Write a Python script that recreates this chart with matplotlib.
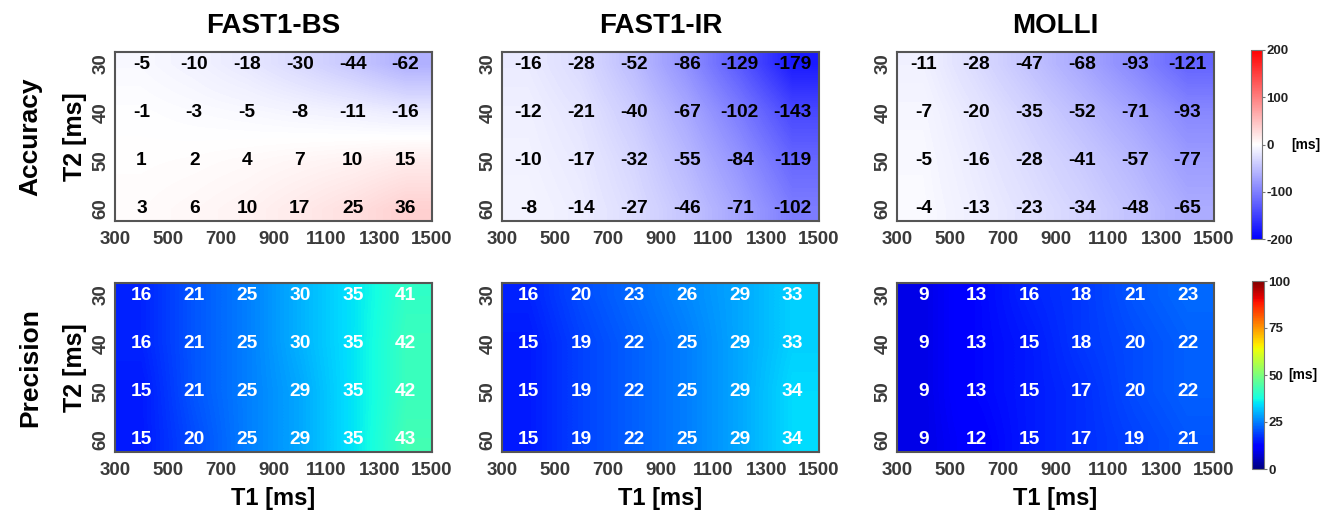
import numpy as np
import matplotlib
matplotlib.use("Agg")
import matplotlib.pyplot as plt

plt.rcParams['font.family'] = ['Liberation Sans', 'DejaVu Sans']
plt.rcParams['axes.unicode_minus'] = False

# datos
metodos = ['FAST1-BS', 'FAST1-IR', 'MOLLI']
t1_ticks = [300, 500, 700, 900, 1100, 1300, 1500]
t2_ticks = [30, 40, 50, 60]
t1_vals = [400, 600, 800, 1000, 1200, 1400]

acc_bs = [[-5, -10, -18, -30, -44, -62],
          [-1, -3, -5, -8, -11, -16],
          [1, 2, 4, 7, 10, 15],
          [3, 6, 10, 17, 25, 36]]
acc_ir = [[-16, -28, -52, -86, -129, -179],
          [-12, -21, -40, -67, -102, -143],
          [-10, -17, -32, -55, -84, -119],
          [-8, -14, -27, -46, -71, -102]]
acc_molli = [[-11, -28, -47, -68, -93, -121],
             [-7, -20, -35, -52, -71, -93],
             [-5, -16, -28, -41, -57, -77],
             [-4, -13, -23, -34, -48, -65]]

prec_bs = [[16, 21, 25, 30, 35, 41],
           [16, 21, 25, 30, 35, 42],
           [15, 21, 25, 29, 35, 42],
           [15, 20, 25, 29, 35, 43]]
prec_ir = [[16, 20, 23, 26, 29, 33],
           [15, 19, 22, 25, 29, 33],
           [15, 19, 22, 25, 29, 34],
           [15, 19, 22, 25, 29, 34]]
prec_molli = [[9, 13, 16, 18, 21, 23],
              [9, 13, 15, 18, 20, 22],
              [9, 13, 15, 17, 20, 22],
              [9, 12, 15, 17, 19, 21]]

filas = [
    ('Accuracy', [acc_bs, acc_ir, acc_molli], 'bwr', -200, 200, 'black'),
    ('Precision', [prec_bs, prec_ir, prec_molli], 'jet', 0, 100, 'white'),
]

W, H = 1333, 513
fig = plt.figure(figsize=(W / 100, H / 100), dpi=100)

def px(l, t, w, h):
    return [l / W, (H - t - h) / H, w / W, h / H]

lefts = [115, 502, 897]
tops = [52, 283]
gris = '#3a3a3a'

for r, (nombre, datos, cmap, vmin, vmax, tcol) in enumerate(filas):
    for c in range(3):
        ax = fig.add_axes(px(lefts[c], tops[r], 317, 169))
        z = np.array(datos[c])
        im = ax.imshow(z, cmap=cmap, vmin=vmin, vmax=vmax, aspect='auto',
                       interpolation='bilinear', extent=[300, 1500, 65, 25])
        ax.set_xlim(300, 1500)
        ax.set_ylim(62.5, 27.5)
        for i, t2 in enumerate(t2_ticks):
            for j, t1 in enumerate(t1_vals):
                ax.text(t1, t2, str(datos[c][i][j]), ha='center', va='center',
                        fontsize=13.8, fontweight='bold', color=tcol)
        ax.set_xticks(t1_ticks)
        ax.set_yticks(t2_ticks)
        ax.set_xticklabels(t1_ticks, fontsize=13.5, fontweight='bold', color=gris)
        ax.set_yticklabels(t2_ticks, fontsize=13.5, fontweight='bold', color=gris,
                           rotation=90, va='center')
        ax.tick_params(axis='x', length=0, pad=7)
        ax.tick_params(axis='y', length=0, pad=4)
        for s in ax.spines.values():
            s.set_color('#555555')
            s.set_linewidth(1.5)
        if r == 0:
            ax.set_title(metodos[c], fontsize=20, fontweight='bold', pad=14)
        if c == 0:
            ax.set_ylabel('T2 [ms]', fontsize=18, fontweight='bold', labelpad=4)
            ax.text(-0.268, 0.5, nombre, transform=ax.transAxes, rotation=90,
                    ha='center', va='center', fontsize=19, fontweight='bold')
        if r == 1:
            ax.set_xlabel('T1 [ms]', fontsize=17, fontweight='bold', labelpad=6)

    # barra de color
    if r == 0:
        cax = fig.add_axes(px(1251, 50, 11, 189))
        cb = fig.colorbar(im, cax=cax, ticks=[-200, -100, 0, 100, 200])
    else:
        cax = fig.add_axes(px(1252, 281, 12, 188))
        cb = fig.colorbar(im, cax=cax, ticks=[0, 25, 50, 75, 100])
    cb.outline.set_edgecolor('#777777')
    cb.ax.tick_params(labelsize=9.5, length=2, color='#777777', pad=1)
    for lb in cb.ax.get_yticklabels():
        lb.set_fontweight('bold')
        lb.set_color('#222222')
    cax.text(3.7 if r == 0 else 3.0, 0.5, '[ms]', transform=cax.transAxes,
             ha='left', va='center', fontsize=10, fontweight='bold')

fig.savefig('out.png', dpi=100)
